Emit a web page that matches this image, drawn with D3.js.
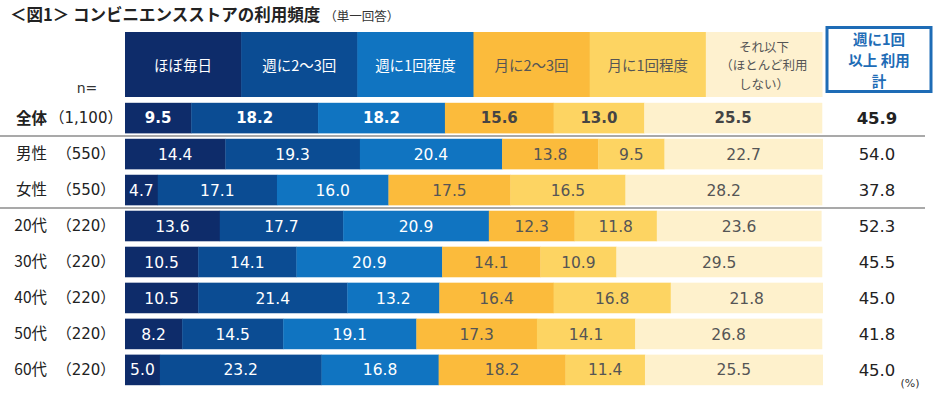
<!DOCTYPE html>
<html><head><meta charset="utf-8">
<script src="https://cdn.jsdelivr.net/npm/d3@7"></script>
<style>
body{margin:0;background:#fff;}
svg{display:block;}
text{font-family:"DejaVu Sans","Noto Sans CJK JP",sans-serif;}
.jp{font-family:"Noto Sans CJK JP","DejaVu Sans",sans-serif;}
</style></head>
<body>
<svg id="c" width="934" height="395"></svg>
<script>
const categories = ["全体","男性","女性","20代","30代","40代","50代","60代"];
const nLabels = ["（1,100）","（550）","（550）","（220）","（220）","（220）","（220）","（220）"];
const seriesNames = ["ほぼ毎日","週に2～3回","週に1回程度","月に2～3回","月に1回程度","それ以下"];
const headerLines = [["ほぼ毎日"],["週に2～3回"],["週に1回程度"],["月に2～3回"],["月に1回程度"],["それ以下","（ほとんど利用","しない）"]];
const daily   = [9.5,14.4,4.7,13.6,10.5,10.5,8.2,5.0];
const week23  = [18.2,19.3,17.1,17.7,14.1,21.4,14.5,23.2];
const week1   = [18.2,20.4,16.0,20.9,20.9,13.2,19.1,16.8];
const month23 = [15.6,13.8,17.5,12.3,14.1,16.4,17.3,18.2];
const month1  = [13.0,9.5,16.5,11.8,10.9,16.8,14.1,11.4];
const less    = [25.5,22.7,28.2,23.6,29.5,21.8,26.8,25.5];
const weeklyTotal = [45.9,54.0,37.8,52.3,45.5,45.0,41.8,45.0];

const colors = ["#0e2c6a","#0b4c93","#1074c1","#fbbb3c","#fdd462","#fef1cc"];
const headerColors = ["#0e2c6a","#0b4c93","#1074c1","#fbbb3c","#fdd462","#fef1cf"];
const textColors = ["#fff","#fff","#fff","#555","#555","#555"];

const svg = d3.select("#c");
const series = [daily,week23,week1,month23,month1,less];

const x = d3.scaleLinear().domain([0,100]).range([125,822]);
const y = d3.scaleBand().domain(d3.range(categories.length)).range([101,387]).paddingInner(0.15).paddingOuter(0.05);

// title
const t = svg.append("text").attr("class","jp").attr("x",10).attr("y",21);
t.append("tspan").attr("font-size",16.5).attr("font-weight","bold").attr("fill","#222").text("＜図1＞ コンビニエンスストアの利用頻度");
t.append("tspan").attr("font-size",12.5).attr("fill","#333").attr("dx",4).text("（単一回答）");

// header
const hx = d3.scaleBand().domain(d3.range(seriesNames.length)).range([125,822]);
const hg = svg.append("g");
seriesNames.forEach((s,i)=>{
  hg.append("rect").attr("x",hx(i)).attr("y",32).attr("width",hx.bandwidth()+0.5).attr("height",65).attr("fill",headerColors[i]);
  const lines = headerLines[i];
  const lh = 18.2;
  const cy = 66 - (lines.length-1)*lh/2;
  lines.forEach((l,j)=>{
    hg.append("text").attr("class","jp").attr("x",hx(i)+hx.bandwidth()/2).attr("y",cy+j*lh)
      .attr("dy","0.35em").attr("text-anchor","middle").attr("font-size",lines.length>1?12.5:14.5)
      .attr("fill",textColors[i]).text(l);
  });
});
// right header box
svg.append("rect").attr("x",827).attr("y",27.5).attr("width",104).attr("height",64).attr("fill","#fff").attr("stroke","#1e6cb6").attr("stroke-width",3);
["週に1回","以上 利用","計"].forEach((l,j)=>{
  svg.append("text").attr("class","jp").attr("x",879).attr("y",40+j*21).attr("dy","0.35em").attr("text-anchor","middle")
    .attr("font-size",14.5).attr("font-weight","bold").attr("fill","#1e6cb6").text(l);
});
svg.append("text").attr("x",87).attr("y",88).attr("dy","0.35em").attr("text-anchor","middle").attr("font-size",14).attr("fill","#333").text("n=");

// bars
categories.forEach((c,r)=>{
  const bold = r===0;
  let cum = 0;
  const g = svg.append("g");
  series.forEach((arr,i)=>{
    const v = arr[r];
    const x0 = x(cum), x1 = x(cum+v);
    g.append("rect").attr("x",x0).attr("y",y(r)).attr("width",x1-x0+0.3).attr("height",y.bandwidth()).attr("fill",colors[i]);
    g.append("text").attr("x",(x0+x1)/2).attr("y",y(r)+y.bandwidth()/2).attr("dy","0.36em")
      .attr("text-anchor","middle").attr("font-size",bold?15:15.5).attr("font-weight",bold?"bold":"normal")
      .attr("fill",bold&&i>=3?"#444":textColors[i]).text(v.toFixed(1));
    cum += v;
  });
  const cy = y(r)+y.bandwidth()/2;
  svg.append("text").attr("class","jp").attr("x",47).attr("y",cy).attr("dy","0.35em").attr("text-anchor","end")
    .attr("font-size",15.5).attr("font-weight",bold?"bold":"normal").attr("fill","#222").text(c);
  svg.append("text").attr("x",86).attr("y",cy).attr("dy","0.35em").attr("text-anchor","middle")
    .attr("font-size",15).attr("fill","#222").text(nLabels[r]);
  svg.append("text").attr("x",877).attr("y",cy).attr("dy","0.36em").attr("text-anchor","middle")
    .attr("font-size",16.5).attr("font-weight",bold?"bold":"normal").attr("fill","#222").text(weeklyTotal[r].toFixed(1));
});

// separators
[0,2].forEach(r=>{
  const yy = (y(r)+y.bandwidth()+y(r+1))/2;
  svg.append("line").attr("x1",0).attr("x2",925).attr("y1",yy).attr("y2",yy).attr("stroke","#8c8c8c").attr("stroke-width",1.5);
});
svg.append("text").attr("x",910).attr("y",383).attr("dy","0.35em").attr("text-anchor","middle").attr("font-size",11).attr("fill","#333").text("(%)");
</script>
</body></html>
